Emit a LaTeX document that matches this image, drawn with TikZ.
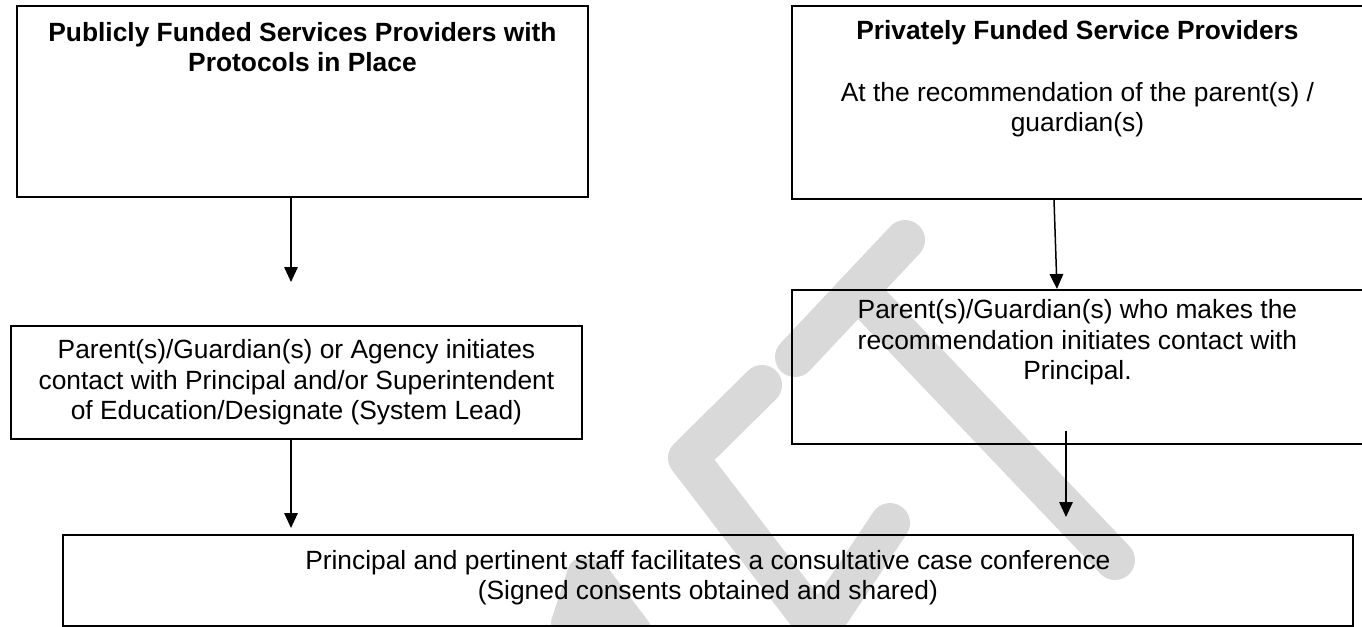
\documentclass[tikz,border=0pt]{standalone}
\usepackage{fontspec}
\setmainfont{Liberation Sans}
\usetikzlibrary{arrows.meta,calc}

\tikzset{
	box/.style={draw=black, line width=0.4mm, inner sep=0pt, anchor=north west},
	txt/.style={align=center, inner sep=0pt, anchor=base, font=\fontsize{15}{17.6}\selectfont},
	ttl/.style={txt, font=\fontsize{15}{17.6}\selectfont\bfseries},
	flow/.style={line width=0.3mm, -{Triangle[length=3mm, width=2.7mm]}},
	wmark/.style={draw=black!15, line width=8mm, line cap=round, line join=round}
}

\begin{document}
\begin{tikzpicture}[x=0.02cm, y=-0.02cm]
		%%%%% START %%%%%
		\useasboundingbox (0, 0) rectangle (1362, 626);
		\clip (0, 0) rectangle (1362, 626);
		
		% watermark
		\draw[wmark] (905, 240) -- (795, 357);
		\draw[wmark] (858, 290) -- (1115, 560);
		\draw[wmark] (762, 385) -- (688, 458) -- (835, 650);
		\draw[wmark] (890, 523) -- (812, 640);
		\fill[black!15, rounded corners=6] (548, 630) -- (572, 557) -- (602, 560) -- (655, 630) -- cycle;
		
		% boxes
		\node[box, minimum width=11.42cm, minimum height=3.82cm] (pub) at (16, 5) {};
		\node[box, minimum width=11.42cm, minimum height=3.86cm] (priv) at (791, 5) {};
		\node[box, minimum width=11.42cm, minimum height=2.26cm] (agency) at (10, 325) {};
		\node[box, minimum width=11.42cm, minimum height=3.08cm] (parent) at (791, 289) {};
		\node[box, minimum width=25.8cm, minimum height=1.82cm] (conf) at (62, 534) {};
		
		% texts (base = last line)
		\node[ttl] (pubT) at ([yshift=-1.34cm]pub.north) {Publicly Funded Services Providers with\\Protocols in Place};
		\node[ttl] (privT) at ([yshift=-0.7cm]priv.north) {Privately Funded Service Providers};
		\node[txt] (privS) at ([yshift=-2.54cm]priv.north) {At the recommendation of the parent(s) /\\guardian(s)};
		\node[txt] (agencyT) at ([yshift=-1.9cm]agency.north) {Parent(s)/Guardian(s) or Agency initiates\\contact with Principal and/or Superintendent\\of Education/Designate (System Lead)};
		\node[txt] (parentT) at ([yshift=-1.82cm]parent.north) {Parent(s)/Guardian(s) who makes the\\recommendation initiates contact with\\Principal.};
		\node[txt] (confT) at ([yshift=-1.32cm]conf.north) {Principal and pertinent staff facilitates a consultative case conference\\(Signed consents obtained and shared)};
		
		% arrows
		\coordinate (a1) at (291, 282);
		\coordinate (a2) at (1054, 0);
		\coordinate (a2b) at (1057, 0);
		\coordinate (a3) at (291, 528);
		\coordinate (a4) at (1066, 431);
		\coordinate (a4b) at (1066, 517);
		
		\draw[flow] (pub.south -| a1) -- (a1);
		\draw[flow] (priv.south -| a2) -- (parent.north -| a2b);
		\draw[flow] (agency.south -| a3) -- (a3);
		\draw[flow] (a4) -- (a4b);
		%%%%% END %%%%%
	\end{tikzpicture}
\end{document}
